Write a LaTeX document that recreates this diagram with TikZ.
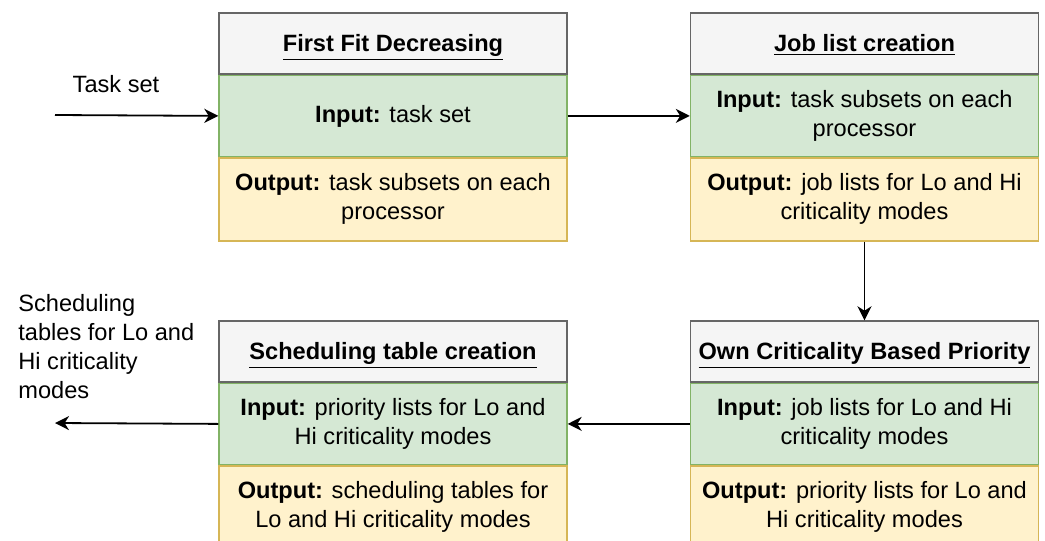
\documentclass[tikz,border=0pt]{standalone}
\usepackage{fontspec}
\setmainfont{Liberation Sans}
\usetikzlibrary{positioning, arrows.meta}

\definecolor{headline}{HTML}{666666}
\definecolor{headfill}{HTML}{F5F5F5}
\definecolor{inline}{HTML}{82B366}
\definecolor{infill}{HTML}{D5E8D4}
\definecolor{outline}{HTML}{D6B656}
\definecolor{outfill}{HTML}{FFF2CC}

\tikzset{
  cell/.style={minimum width=174pt, inner sep=0pt, align=center, line width=0.7pt,
    font=\fontsize{11.8}{14.5}\selectfont},
  head/.style={cell, draw=headline, fill=headfill, minimum height=30.5pt,
    text height=12pt, text depth=4pt},
  inbox/.style={cell, draw=inline, fill=infill, minimum height=40.5pt},
  outbox/.style={cell, draw=outline, fill=outfill, minimum height=41.5pt},
  flow/.style={-{Stealth[length=7pt, width=7pt, inset=2.2pt]}, line width=0.9pt}
}

\begin{document}
\begin{tikzpicture}[x=0.5pt, y=-0.5pt]
  \useasboundingbox (0,0) rectangle (1045,541);
  % first row
  \node[head] (tA) at (393,43.5) {\textbf{\underline{First Fit Decreasing}}};
  \node[inbox, below=0pt of tA] (iA) {\textbf{Input:} task set};
  \node[outbox, below=0pt of iA] (oA) {\textbf{Output:} task subsets on each\\processor};
  \node[head] (tB) at (864.5,43.5) {\textbf{\underline{Job list creation}}};
  \node[inbox, below=0pt of tB] (iB) {\textbf{Input:} task subsets on each\\processor};
  \node[outbox, below=0pt of iB] (oB) {\textbf{Output:} job lists for Lo and Hi\\criticality modes};
  % second row
  \node[head] (tC) at (393,351.5) {\textbf{\underline{Scheduling table creation}}};
  \node[inbox, below=0pt of tC] (iC) {\textbf{Input:} priority lists for Lo and\\Hi criticality modes};
  \node[outbox, below=0pt of iC] (oC) {\textbf{Output:} scheduling tables for\\Lo and Hi criticality modes};
  \node[head] (tD) at (864.5,351.5) {\textbf{\underline{Own Criticality Based Priority}}};
  \node[inbox, below=0pt of tD] (iD) {\textbf{Input:} job lists for Lo and Hi\\criticality modes};
  \node[outbox, below=0pt of iD] (oD) {\textbf{Output:} priority lists for Lo and\\Hi criticality modes};
  % free ends
  \coordinate (src) at (55,115);
  \coordinate (dst) at (55,423);
  \node[font=\fontsize{11.8}{14.5}\selectfont] (taskset) at (116,84) {Task set};
  \node[anchor=north west, align=left, inner sep=0pt,
    font=\fontsize{11.8}{14.5}\selectfont] (tables) at (18,294)
    {Scheduling\\tables for Lo and\\Hi criticality\\modes};
  % arrows
  \draw[flow] (src) -- (iA.west);
  \draw[flow] (iA.east) -- (iB.west);
  \draw[flow] (oB.south) -- (tD.north);
  \draw[flow] (iD.west) -- (iC.east);
  \draw[flow] (iC.west) -- (dst);
\end{tikzpicture}
\end{document}
